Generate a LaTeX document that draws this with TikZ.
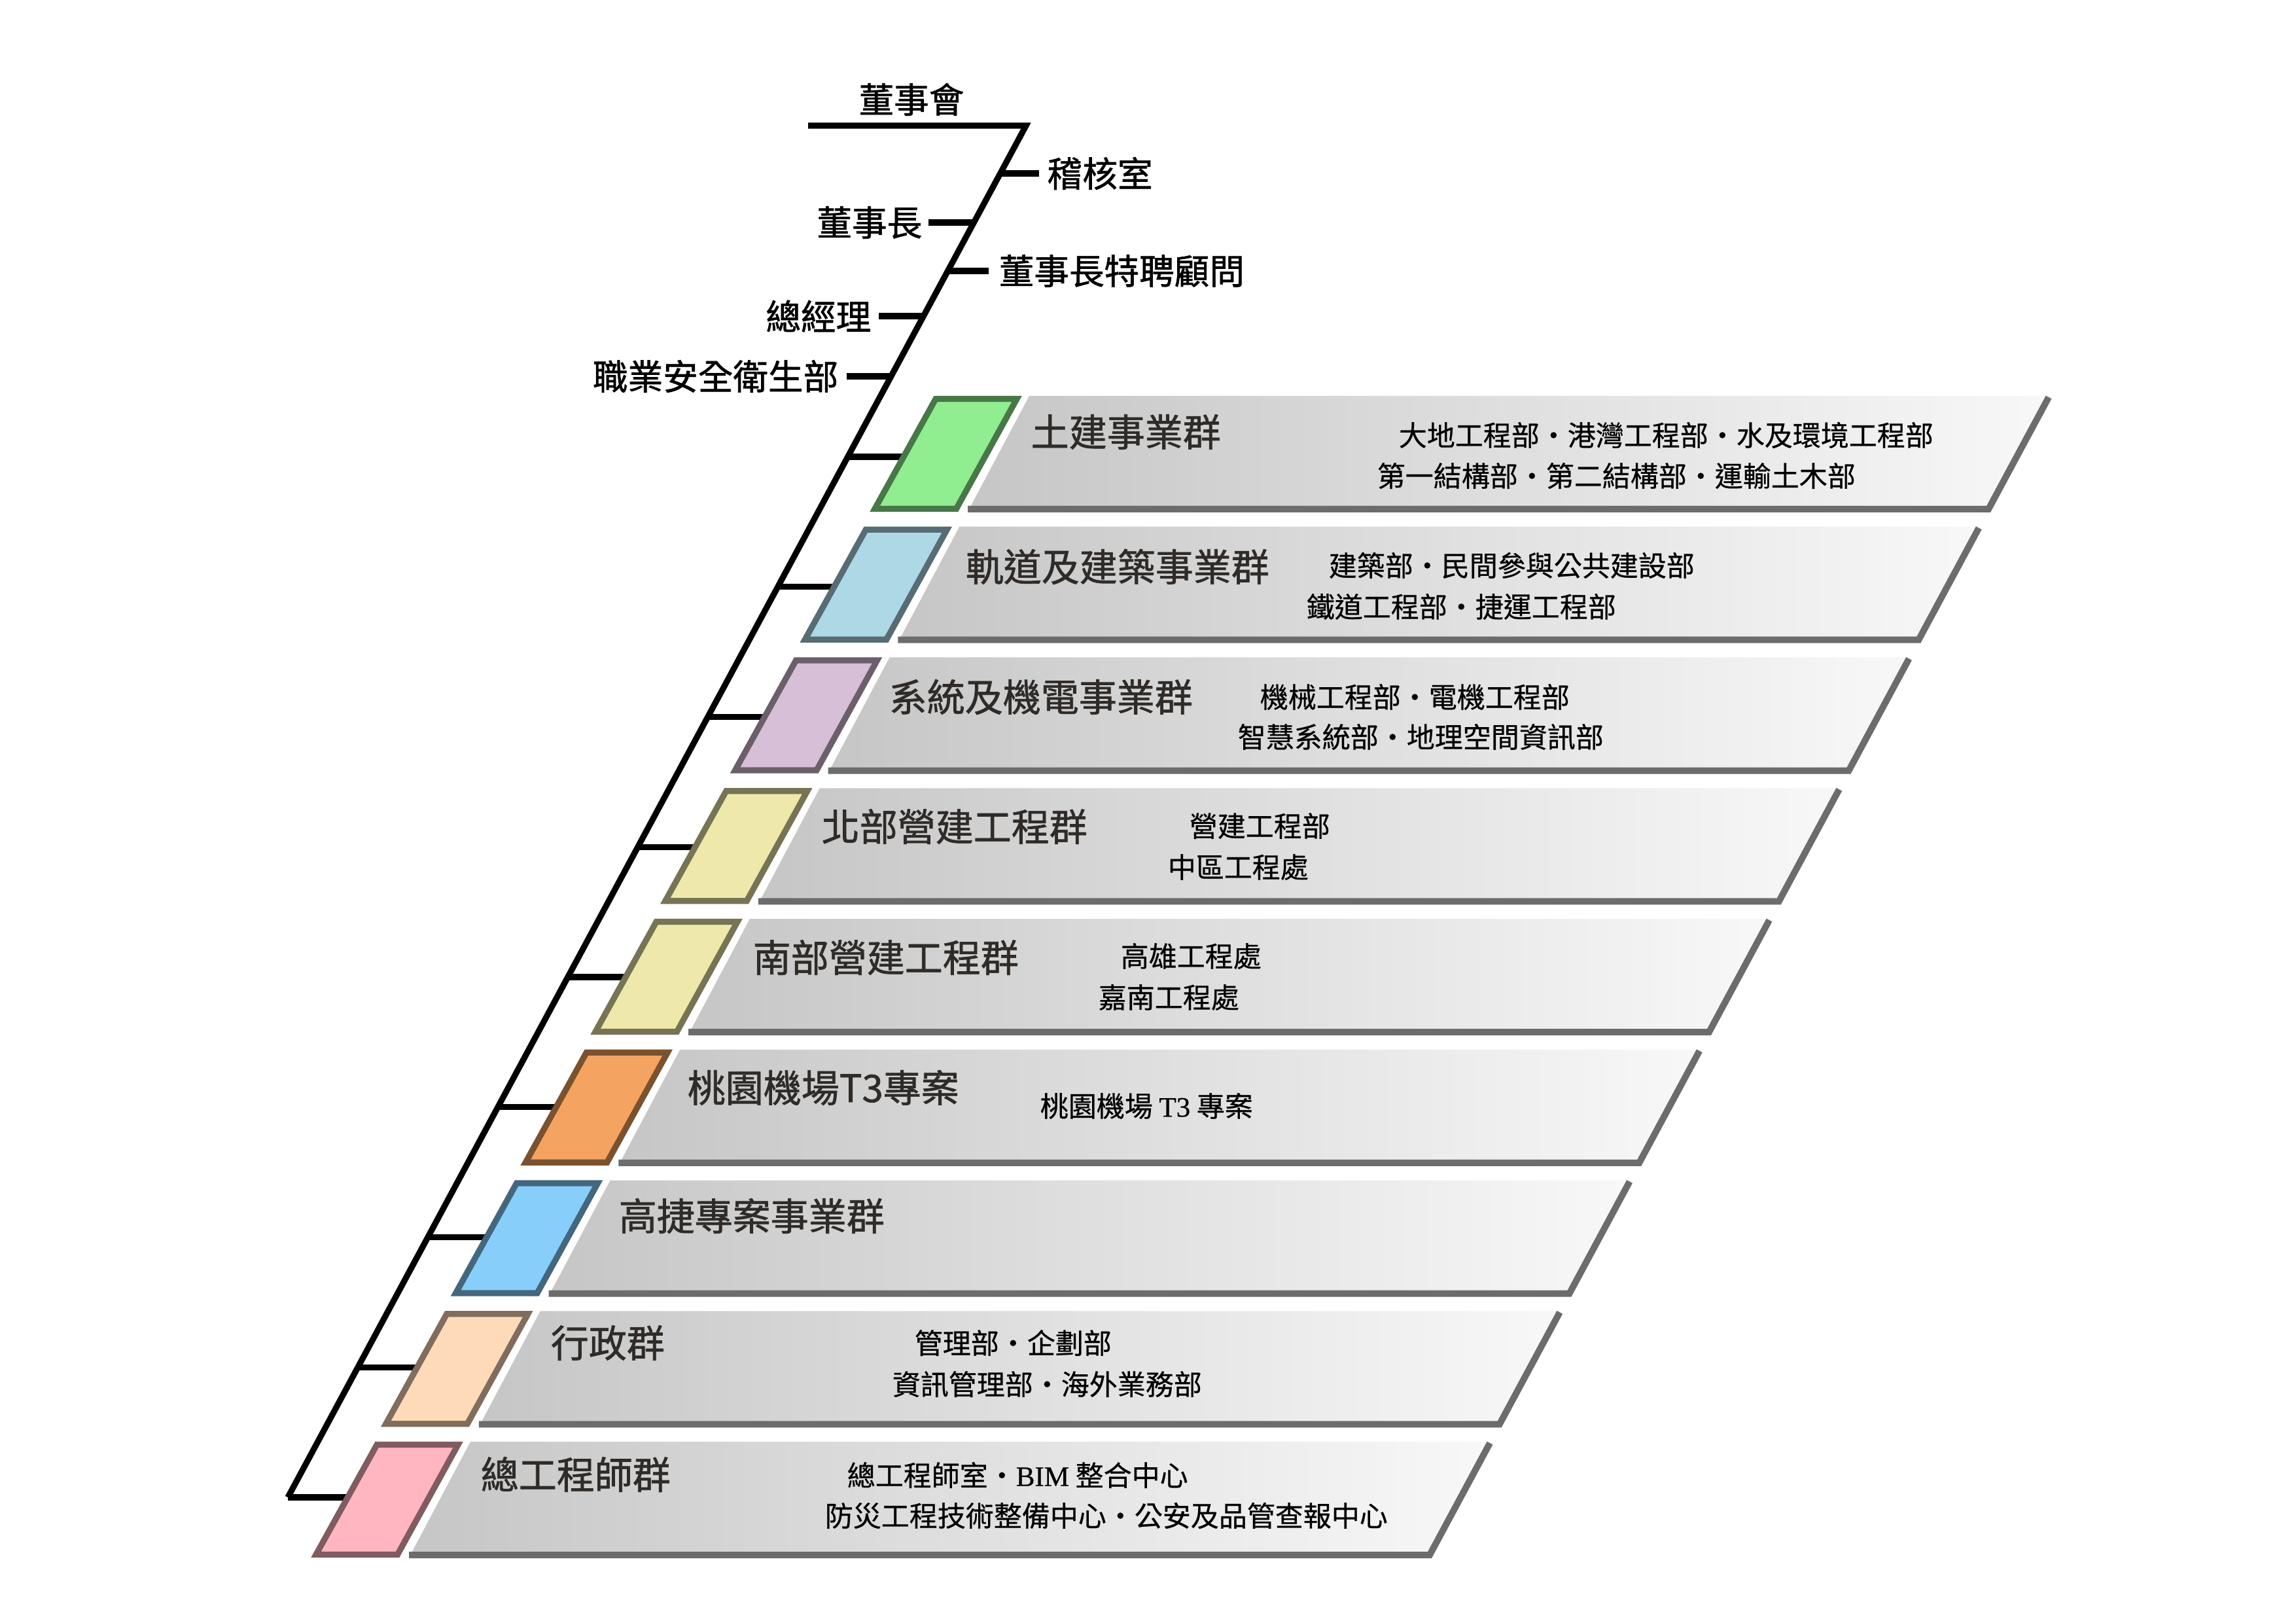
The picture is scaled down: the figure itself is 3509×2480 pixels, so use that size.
\documentclass[tikz,border=0pt]{standalone}
\usepackage{fontspec}
\newfontfamily\cjk{Noto Sans CJK TC}
\newfontfamily\cjkb[FakeBold=1.2]{Noto Sans CJK TC}
\newfontfamily\cjkm[FakeBold=0.5]{Noto Sans CJK TC}
\newfontfamily\lat[FakeBold=0.5]{Liberation Serif}
\definecolor{bandL}{HTML}{C6C6C6}
\definecolor{bandM}{HTML}{D4D4D4}
\definecolor{bandR}{HTML}{F8F8F8}
\definecolor{bandEdge}{HTML}{6C6C6C}
\definecolor{titleCol}{HTML}{2F2B28}
\definecolor{cGreen}{HTML}{90EE90}
\definecolor{cBlue}{HTML}{ADD8E6}
\definecolor{cPurple}{HTML}{D8BFD8}
\definecolor{cYellow}{HTML}{EEE8AA}
\definecolor{cOrange}{HTML}{F4A460}
\definecolor{cSky}{HTML}{87CEFA}
\definecolor{cPeach}{HTML}{FFDAB9}
\definecolor{cPink}{HTML}{FFB6C1}
\begin{document}
\begin{tikzpicture}[x=0.25pt,y=-0.25pt,
  mainline/.style={line width=2.3pt, black, line join=miter},
  branch/.style={line width=2.3pt, black},
  toplabel/.style={inner sep=0pt, font=\cjkb\fontsize{13.4pt}{14pt}\selectfont, text=black},
  grouptitle/.style={inner sep=0pt, anchor=west, font=\cjkb\fontsize{14.5pt}{15pt}\selectfont, text=titleCol},
  dept/.style={inner sep=0pt, anchor=west, font=\cjkm\fontsize{10.75pt}{11pt}\selectfont, text=black},
  bandedge/.style={line width=2.5pt, bandEdge, line join=miter}]
\useasboundingbox (0,0) rectangle (3509,2480);

% coordinates of the spine
\coordinate (topL) at (1235,192);
\coordinate (topR) at (1568,192);
\foreach \i in {0,...,8}{
  \pgfmathsetmacro\bx{1427-106.75*\i}
  \pgfmathsetmacro\by{605+199.75*\i}
  \pgfmathsetmacro\ly{698+198.75*\i}
  \coordinate (d\i) at ({1568-0.5382*(\ly-192)},\ly);
  \coordinate (b\i) at ({\bx-0.531*(\ly-\by)+6},\ly);
}

% side labels
\node[toplabel] (board) at (1393,152) {董事會};
\node[toplabel, anchor=west] (audit) at (1600,265) {稽核室};
\node[toplabel, anchor=east] (chair) at (1410,340) {董事長};
\node[toplabel, anchor=west] (advisor) at (1526,414) {董事長特聘顧問};
\node[toplabel, anchor=east] (gm) at (1332,483) {總經理};
\node[toplabel, anchor=east] (safety) at (1282,575) {職業安全衛生部};

\coordinate (sAudit) at ({1568-0.5382*(265-192)},265);
\coordinate (sChair) at ({1568-0.5382*(340-192)},340);
\coordinate (sAdv) at ({1568-0.5382*(414-192)},414);
\coordinate (sGm) at ({1568-0.5382*(483-192)},483);
\coordinate (sSafe) at ({1568-0.5382*(575-192)},575);

\draw[mainline] (topL) -- (topR) -- (d8);
\draw[branch] (sAudit) -- (audit.west -| 1588,0);
\draw[branch] (sChair) -- (chair.east -| 1419,0);
\draw[branch] (sAdv) -- (advisor.west -| 1511,0);
\draw[branch] (sGm) -- (gm.east -| 1343,0);
\draw[branch] (sSafe) -- (safety.east -| 1294,0);
\foreach \i in {0,...,8}{
  \draw[branch] (d\i) -- (b\i);
}

% group boxes and bands
\foreach \i/\fc in {0/cGreen,1/cBlue,2/cPurple,3/cYellow,4/cYellow,5/cOrange,6/cSky,7/cPeach,8/cPink}{
  \pgfmathsetmacro\bx{1427-106.75*\i}
  \pgfmathsetmacro\by{605+199.75*\i}
  \shade[left color=bandL, middle color=bandM, right color=bandR]
    ({\bx+146},\by) -- ({\bx+1708},\by) -- ({\bx+1614},{\by+177}) -- ({\bx+52},{\by+177}) -- cycle;
  \draw[bandedge] ({\bx+1704},{\by+2}) -- ({\bx+1612},{\by+173}) -- ({\bx+52},{\by+173});
  \draw[fill=\fc, draw=\fc!50!black, line width=2.3pt, line join=miter]
    ({\bx+3},{\by+4.5}) -- ({\bx+127},{\by+4.5}) -- ({\bx+34.5},{\by+172.5}) -- ({\bx-90},{\by+172.5}) -- cycle;
}

% group titles
\node[grouptitle] (g0) at (1575,660) {土建事業群};
\node[grouptitle] (g1) at (1475,866) {軌道及建築事業群};
\node[grouptitle] (g2) at (1358,1065) {系統及機電事業群};
\node[grouptitle] (g3) at (1255,1263) {北部營建工程群};
\node[grouptitle] (g4) at (1150,1463) {南部營建工程群};
\node[grouptitle] (g5) at (1050,1662) {桃園機場T3專案};
\node[grouptitle] (g6) at (945,1858) {高捷專案事業群};
\node[grouptitle] (g7) at (841,2052) {行政群};
\node[grouptitle] (g8) at (734,2253) {總工程師群};

% departments
\node[dept] (d0a) at (2137,665) {大地工程部・港灣工程部・水及環境工程部};
\node[dept] (d0b) at (2104,727) {第一結構部・第二結構部・運輸土木部};
\node[dept] (d1a) at (2030,864) {建築部・民間參與公共建設部};
\node[dept] (d1b) at (1996,927) {鐵道工程部・捷運工程部};
\node[dept] (d2a) at (1925,1065) {機械工程部・電機工程部};
\node[dept] (d2b) at (1891,1126) {智慧系統部・地理空間資訊部};
\node[dept] (d3a) at (1817,1262) {營建工程部};
\node[dept] (d3b) at (1784,1325) {中區工程處};
\node[dept] (d4a) at (1712,1461) {高雄工程處};
\node[dept] (d4b) at (1678,1524) {嘉南工程處};
\node[dept] (d5a) at (1589,1690) {桃園機場 {\lat T3} 專案};
\node[dept] (d7a) at (1397,2052) {管理部・企劃部};
\node[dept] (d7b) at (1363,2115) {資訊管理部・海外業務部};
\node[dept] (d8a) at (1294,2254) {總工程師室・{\lat BIM} 整合中心};
\node[dept] (d8b) at (1260,2316) {防災工程技術整備中心・公安及品管查報中心};
\end{tikzpicture}
\end{document}
